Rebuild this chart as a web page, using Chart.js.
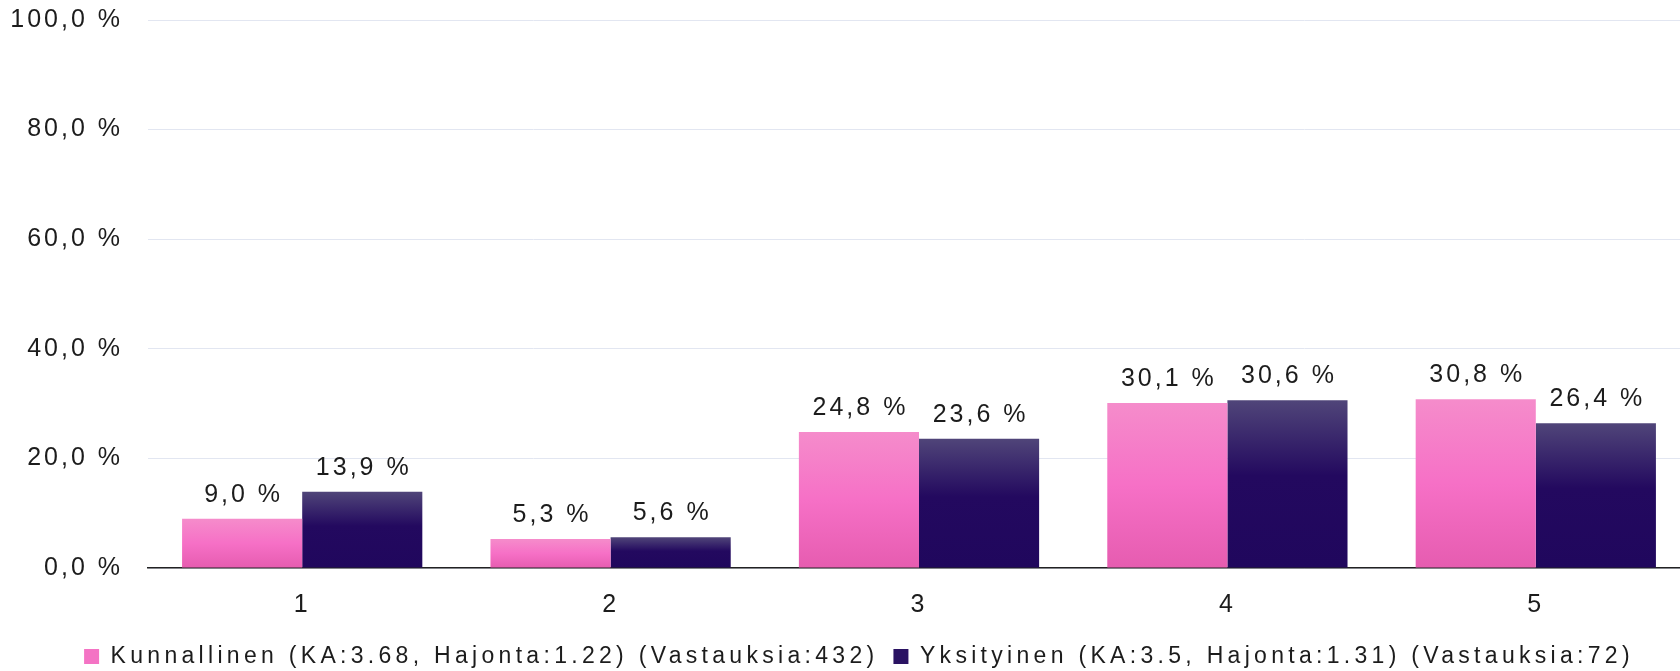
<!DOCTYPE html>
<html>
<head>
<meta charset="utf-8">
<script src="https://cdn.jsdelivr.net/npm/chart.js@4/dist/chart.umd.min.js"></script>
<style>
  html, body { margin: 0; padding: 0; background: #fff; overflow: hidden; }
  #wrap { position: relative; width: 1690px; height: 671px; }
</style>
</head>
<body>
<div id="wrap"><canvas id="chart"></canvas></div>
<script>
const categories = ['1', '2', '3', '4', '5'];
const seriesNames = [
  'Kunnallinen (KA:3.68, Hajonta:1.22) (Vastauksia:432)',
  'Yksityinen (KA:3.5, Hajonta:1.31) (Vastauksia:72)'
];
const kunnallinen = [9.0, 5.3, 24.8, 30.1, 30.8];
const yksityinen = [13.9, 5.6, 23.6, 30.6, 26.4];
const yTicks = [0, 20, 40, 60, 80, 100];

const FONT = "'Liberation Sans', Arial, sans-serif";
const TEXT = '#1c1c1c';
const TRACK = '3px';
const LEGEND_TRACK = '4.3px';

const pinkStops = [[0, '#f58ccb'], [0.5, '#f670c6'], [1, '#e65cb0']];
const navyStops = [[0, '#504579'], [0.45, '#23095f'], [1, '#20075d']];

const fmt = (v) => v.toFixed(1).replace('.', ',') + ' %';

function barGradient(stops, fallback) {
  return (context) => {
    const chart = context.chart;
    if (!chart.chartArea || context.type !== 'data') return fallback;
    const y = chart.scales.y;
    const top = y.getPixelForValue(context.raw);
    const base = y.getPixelForValue(0);
    const g = chart.ctx.createLinearGradient(0, top, 0, base);
    stops.forEach(([at, color]) => g.addColorStop(at, color));
    return g;
  };
}

// wide tracking like the original; the legend gets a bit more
function withTracking(chart, track, fn) {
  const prev = chart.ctx.letterSpacing;
  chart.ctx.letterSpacing = track;
  fn();
  chart.ctx.letterSpacing = prev;
}

const spacing = {
  id: 'spacing',
  afterInit(chart) {
    const legend = chart.legend;
    if (!legend || legend._tracked) return;
    const fit = legend.fit.bind(legend);
    const draw = legend.draw.bind(legend);
    legend.fit = () => withTracking(chart, LEGEND_TRACK, fit);
    legend.draw = () => withTracking(chart, LEGEND_TRACK, draw);
    legend._tracked = true;
  },
  beforeLayout(chart) { chart.ctx.letterSpacing = TRACK; },
  afterLayout(chart) {
    const legend = chart.legend;
    if (!legend) return;
    legend.left += 14;
    legend.right += 14;
    legend.top += 7;
    legend.bottom += 7;
  },
  beforeDraw(chart) { chart.ctx.letterSpacing = TRACK; }
};

const valueLabels = {
  id: 'valueLabels',
  afterDatasetsDraw(chart) {
    const ctx = chart.ctx;
    ctx.save();
    ctx.letterSpacing = TRACK;
    ctx.font = `25px ${FONT}`;
    ctx.fillStyle = TEXT;
    ctx.textAlign = 'center';
    ctx.textBaseline = 'alphabetic';
    chart.data.datasets.forEach((ds, i) => {
      chart.getDatasetMeta(i).data.forEach((bar, j) => {
        ctx.fillText(fmt(ds.data[j]), bar.x + 1.5, bar.y - 17);
      });
    });
    ctx.restore();
  }
};

new Chart(document.getElementById('chart'), {
  type: 'bar',
  data: {
    labels: categories,
    datasets: [
      {
        label: seriesNames[0],
        data: kunnallinen,
        backgroundColor: barGradient(pinkStops, '#f473c4'),
        borderWidth: 0
      },
      {
        label: seriesNames[1],
        data: yksityinen,
        backgroundColor: barGradient(navyStops, '#2a1262'),
        borderWidth: 0
      }
    ]
  },
  options: {
    responsive: true,
    maintainAspectRatio: false,
    animation: false,
    layout: { padding: 0 },
    datasets: {
      bar: { categoryPercentage: 0.779, barPercentage: 1 }
    },
    scales: {
      x: {
        grid: { display: false, drawTicks: false },
        border: { display: true, color: '#222', width: 1.5 },
        ticks: { color: TEXT, font: { family: FONT, size: 25 }, padding: 22 },
        afterFit: (scale) => { scale.height = 55; }
      },
      y: {
        min: 0,
        max: 100,
        afterBuildTicks: (scale) => { scale.ticks = yTicks.map((value) => ({ value })); },
        grid: { color: '#e2e6f1', lineWidth: 1, drawTicks: false },
        border: { display: false },
        ticks: {
          color: TEXT,
          font: { family: FONT, size: 25 },
          padding: 25,
          callback: (value) => fmt(value)
        },
        afterFit: (scale) => {
          scale.width = 148;
          scale.paddingTop = 20;
          scale.paddingBottom = 0;
        }
      }
    },
    plugins: {
      tooltip: { enabled: false },
      legend: {
        position: 'bottom',
        labels: {
          color: TEXT,
          font: { family: FONT, size: 23 },
          boxWidth: 15,
          boxHeight: 15,
          padding: 15,
          generateLabels: (chart) => chart.data.datasets.map((ds, i) => ({
            text: ds.label,
            fillStyle: i === 0 ? '#f473c4' : '#2a1262',
            strokeStyle: 'transparent',
            lineWidth: 0,
            fontColor: TEXT,
            datasetIndex: i
          }))
        }
      }
    }
  },
  plugins: [spacing, valueLabels]
});
</script>
</body>
</html>
